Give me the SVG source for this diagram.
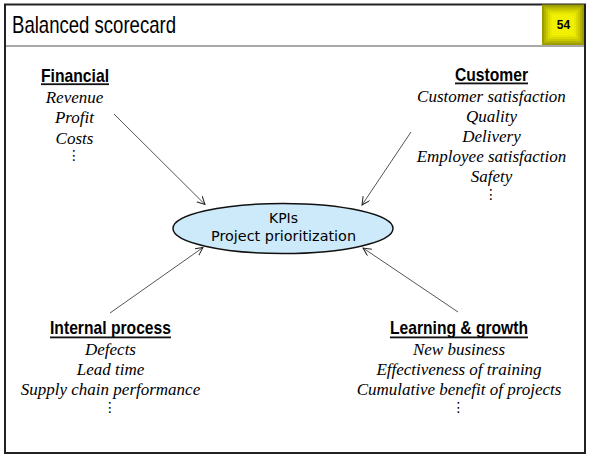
<svg xmlns="http://www.w3.org/2000/svg" width="596" height="467" viewBox="0 0 596 467">
<style>
.title{font-family:"Liberation Sans",Arial,sans-serif;font-size:24px;fill:#000}
.head{font-family:"Liberation Sans",Arial,sans-serif;font-size:19px;font-weight:bold;fill:#000;text-anchor:middle}
.item{font-family:"Liberation Serif","Times New Roman",serif;font-size:17px;font-style:italic;fill:#000;text-anchor:middle}
.dots{font-family:"DejaVu Sans",sans-serif;font-size:14px;fill:#000;text-anchor:middle}
.ul{fill:#111}
.kpi{font-family:"DejaVu Sans",sans-serif;font-size:14px;fill:#000;text-anchor:middle}
.conn{stroke:#555;stroke-width:1;fill:none;marker-end:url(#arr)}
</style>
<defs>
<marker id="arr" markerWidth="10" markerHeight="10" refX="8" refY="4" orient="auto" markerUnits="userSpaceOnUse">
<path d="M0,0 L8,4 L0,8" fill="none" stroke="#222" stroke-width="1"/>
</marker>
</defs>
<rect x="0" y="0" width="596" height="467" fill="#fff"/>
<g id="frame">
<rect x="5" y="4.5" width="580" height="448.5" fill="#fff" stroke="#222" stroke-width="2"/>
<rect x="6" y="45" width="578" height="2" fill="#a8a8a8"/>
<text class="title" x="12" y="33" textLength="164" lengthAdjust="spacingAndGlyphs">Balanced scorecard</text>
</g>
<g id="badge">
<rect x="542" y="4.5" width="42" height="40.5" fill="#9c9c00"/>
<rect x="544" y="6.5" width="38" height="36.5" fill="#b4b400"/>
<rect x="546" y="8.5" width="34" height="32.5" fill="#c8c800"/>
<rect x="548" y="10.5" width="30" height="28.5" fill="#dada00"/>
<rect x="550" y="12.5" width="26" height="24.5" fill="#e8e800"/>
<rect x="552" y="14.5" width="22" height="20.5" fill="#f0f000"/>
<text x="563.5" y="29.3" font-family="Liberation Sans,Arial,sans-serif" font-size="12" font-weight="bold" text-anchor="middle" fill="#000">54</text>
</g>
<g id="connectors">
<line class="conn" x1="114" y1="114" x2="205" y2="204.5"/>
<line class="conn" x1="411" y1="132" x2="362" y2="205"/>
<line class="conn" x1="110" y1="313" x2="203" y2="247.5"/>
<line class="conn" x1="458" y1="312" x2="363" y2="248"/>
</g>
<g id="kpis">
<ellipse cx="283" cy="228.5" rx="110" ry="25" fill="#cdeafa" stroke="#111" stroke-width="1.5"/>
<text class="kpi" x="283.5" y="222.5">KPIs</text>
<text class="kpi" x="283.5" y="240.5" textLength="145" lengthAdjust="spacingAndGlyphs">Project prioritization</text>
</g>
<g id="financial">
<text class="head" x="75" y="81.5" textLength="68" lengthAdjust="spacingAndGlyphs">Financial</text>
<rect class="ul" x="41" y="83.3" width="68" height="1.8"/>
<text class="item" x="74.5" y="103">Revenue</text>
<text class="item" x="74.5" y="123.3">Profit</text>
<text class="item" x="74.5" y="144.3">Costs</text>
<text class="dots" x="74" y="160">⋮</text>
</g>
<g id="customer">
<text class="head" x="491.5" y="81" textLength="73" lengthAdjust="spacingAndGlyphs">Customer</text>
<rect class="ul" x="455" y="82.5" width="73" height="1.8"/>
<text class="item" x="491.5" y="101.7">Customer satisfaction</text>
<text class="item" x="491.5" y="121.7">Quality</text>
<text class="item" x="491.5" y="141.7">Delivery</text>
<text class="item" x="491.5" y="161.7">Employee satisfaction</text>
<text class="item" x="491.5" y="181.7">Safety</text>
<text class="dots" x="491" y="199">⋮</text>
</g>
<g id="internal">
<text class="head" x="110.5" y="334" textLength="121" lengthAdjust="spacingAndGlyphs">Internal process</text>
<rect class="ul" x="50" y="336.5" width="121" height="1.8"/>
<text class="item" x="110.5" y="355">Defects</text>
<text class="item" x="110.5" y="375">Lead time</text>
<text class="item" x="110.5" y="395">Supply chain performance</text>
<text class="dots" x="110" y="412">⋮</text>
</g>
<g id="learning">
<text class="head" x="459" y="334" textLength="138" lengthAdjust="spacingAndGlyphs">Learning &amp; growth</text>
<rect class="ul" x="390" y="336.5" width="138" height="1.8"/>
<text class="item" x="459" y="355">New business</text>
<text class="item" x="459" y="375">Effectiveness of training</text>
<text class="item" x="459" y="395">Cumulative benefit of projects</text>
<text class="dots" x="458.5" y="412">⋮</text>
</g>
<g id="footer">
<text x="5" y="478" font-family="Liberation Sans,Arial,sans-serif" font-size="15" font-weight="bold" fill="#1c2a66">54</text>
</g>
</svg>
